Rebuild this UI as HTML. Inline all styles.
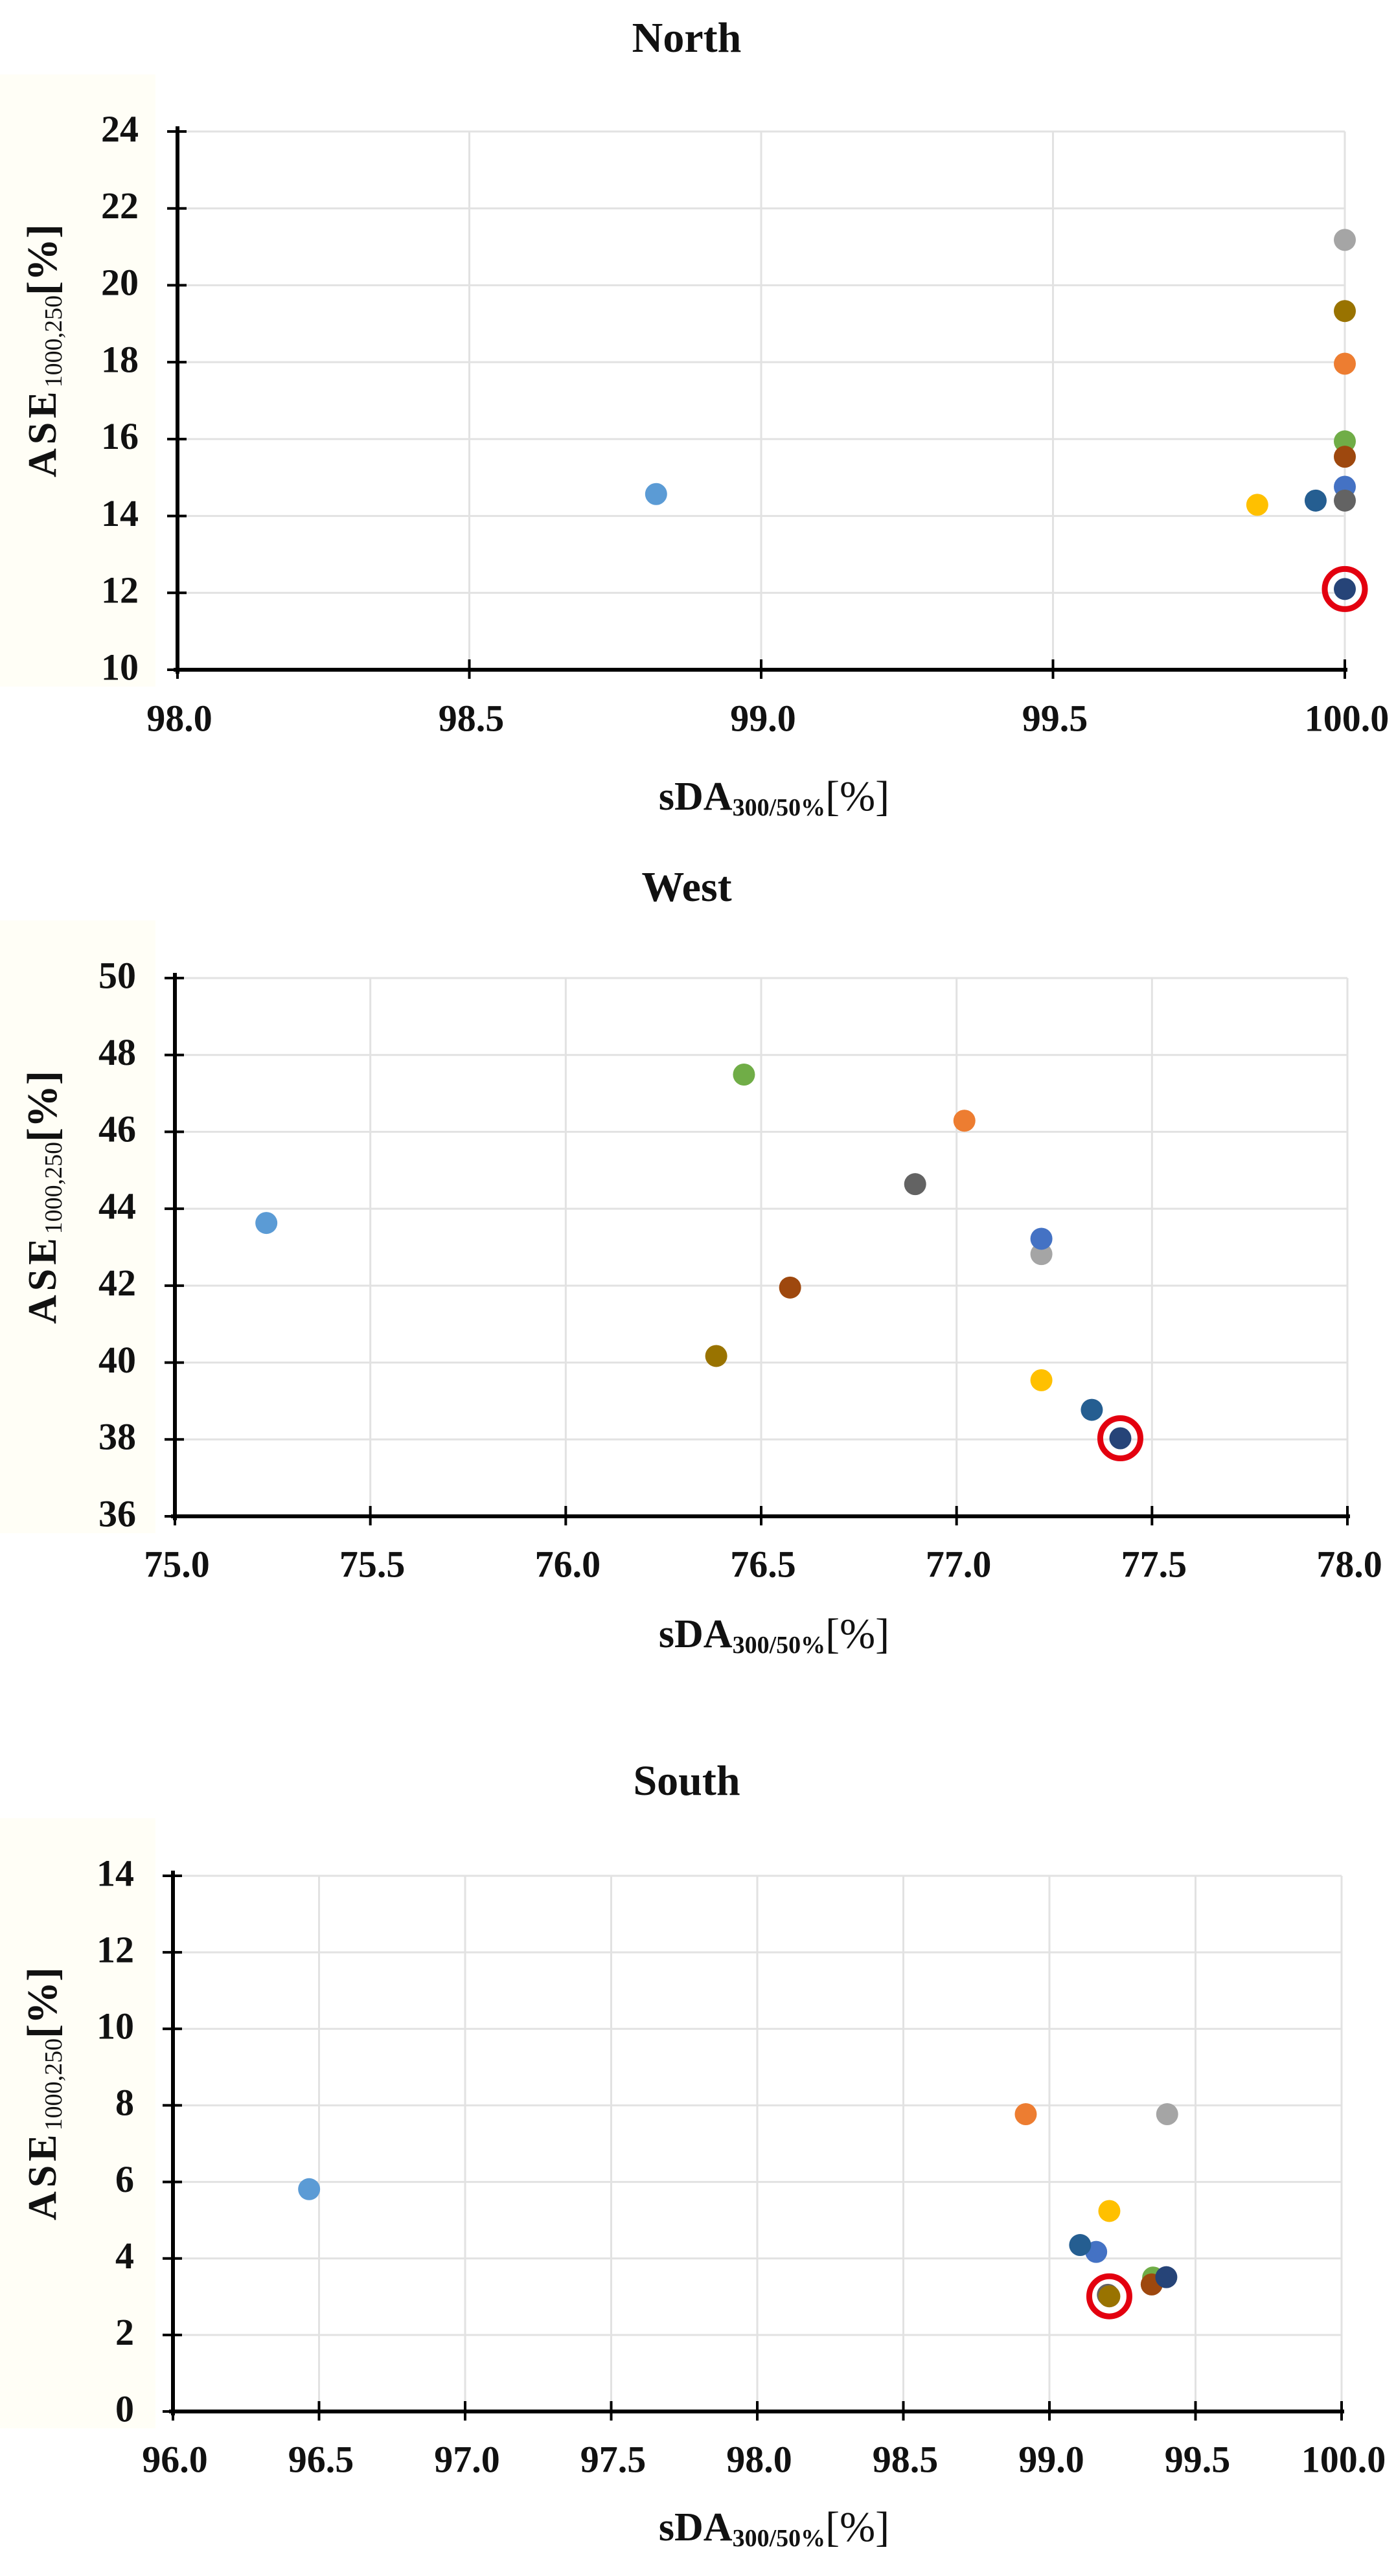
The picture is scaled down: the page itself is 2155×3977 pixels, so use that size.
<!DOCTYPE html>
<html><head><meta charset="utf-8"><style>
html,body{margin:0;padding:0;background:#fff;}
svg{display:block;font-family:"Liberation Serif",serif;}
</style></head><body>
<svg id="fig" width="2155" height="3977" viewBox="0 0 2155 3977" xmlns="http://www.w3.org/2000/svg"></svg>
<script>
// Series colors (order: 0..10)
const seriesNames = ['case-1','case-2','case-3','case-4','case-5','case-6','case-7','case-8','case-9','case-10','case-11'];
const seriesColors = ['#5b9bd5','#ed7d31','#a5a5a5','#ffc000','#4472c4','#70ad47','#255e91','#636363','#9e480e','#997300','#264478'];

// North data
const northX = [98.82, 100.0, 100.0, 99.85, 100.0, 100.0, 99.95, 100.0, 100.0, 100.0, 100.0];
const northY = [14.57, 17.96, 21.18, 14.29, 14.76, 15.94, 14.40, 14.40, 15.54, 19.33, 12.10];
const northXTicks = ['98.0','98.5','99.0','99.5','100.0'];
const northYTicks = ['10','12','14','16','18','20','22','24'];

// West data
const westX = [75.234, 77.02, 77.217, 77.217, 77.217, 76.456, 77.346, 76.894, 76.574, 76.385, 77.419];
const westY = [43.63, 46.29, 42.82, 39.54, 43.22, 47.49, 38.77, 44.64, 41.95, 40.17, 38.03];
const westXTicks = ['75.0','75.5','76.0','76.5','77.0','77.5','78.0'];
const westYTicks = ['36','38','40','42','44','46','48','50'];

// South data
const southX = [96.466, 98.919, 99.403, 99.205, 99.16, 99.355, 99.105, 99.20, 99.35, 99.205, 99.40];
const southY = [5.81, 7.77, 7.77, 5.24, 4.17, 3.50, 4.35, 3.05, 3.32, 3.01, 3.51];
const southXTicks = ['96.0','96.5','97.0','97.5','98.0','98.5','99.0','99.5','100.0'];
const southYTicks = ['0','2','4','6','8','10','12','14'];

const NS='http://www.w3.org/2000/svg';
const svg=document.getElementById('fig');
function mk(tag, attrs, parent){
  const e=document.createElementNS(NS,tag);
  for(const k in attrs) e.setAttribute(k, attrs[k]);
  (parent||svg).appendChild(e);
  return e;
}

function chart(cfg){
  const g=mk('g',{});
  
  
  const xt=cfg.xTicks.map(Number), yt=cfg.yTicks.map(Number);
  const xmin=xt[0], xmax=xt[xt.length-1], ymin=yt[0], ymax=yt[yt.length-1];
  const sx=v=>cfg.left+(v-xmin)/(xmax-xmin)*(cfg.right-cfg.left);
  const sy=v=>cfg.bottom-(v-ymin)/(ymax-ymin)*(cfg.bottom-cfg.top);

  const bg=mk('rect',{x:0,y:cfg.bgTop,width:240,height:cfg.bgBottom-cfg.bgTop,fill:'#fffef6'},g);
  
  

  const title=mk('text',{x:1060,y:cfg.titleY,'text-anchor':'middle','dominant-baseline':'middle','font-size':66,'font-weight':'bold',fill:'#111'},g);
  title.textContent=cfg.title;
  
  

  // gridlines
  xt.forEach((v,i)=>{
    if(i===0) return;
    const l=mk('line',{x1:sx(v),x2:sx(v),y1:cfg.top,y2:cfg.bottom,stroke:'#e2e2e2','stroke-width':3},g);
    
    
  });
  yt.forEach((v,i)=>{
    if(i===0) return;
    const l=mk('line',{x1:cfg.left,x2:cfg.right,y1:sy(v),y2:sy(v),stroke:'#e2e2e2','stroke-width':3},g);
    
    
  });
  // axes
  const ya=mk('line',{x1:cfg.left,x2:cfg.left,y1:cfg.top-8,y2:cfg.bottom+6,stroke:'#000','stroke-width':6},g);
  
  
  const xa=mk('line',{x1:cfg.left-6,x2:cfg.right+4,y1:cfg.bottom,y2:cfg.bottom,stroke:'#000','stroke-width':6},g);
  
  

  cfg.yTicks.forEach((lab,i)=>{
    const y=sy(yt[i]);
    mk('line',{x1:cfg.left-16,x2:cfg.left+14,y1:y,y2:y,stroke:'#000','stroke-width':4},g);
    const t=mk('text',{x:cfg.left-60,y:y+2,'text-anchor':'end','dominant-baseline':'middle','font-size':58,'font-weight':'bold',fill:'#111'},g);
    t.textContent=lab;
    
    
  });
  cfg.xTicks.forEach((lab,i)=>{
    const x=sx(xt[i]);
    mk('line',{x1:x,x2:x,y1:cfg.bottom-16,y2:cfg.bottom+14,stroke:'#000','stroke-width':4},g);
    const t=mk('text',{x:x+3,y:cfg.tickY,'text-anchor':'middle','dominant-baseline':'middle','font-size':58,'font-weight':'bold',fill:'#111'},g);
    t.textContent=lab;
    
    
  });

  // x-axis title
  const xtl=mk('text',{x:1195,y:cfg.xTitleY,'text-anchor':'middle','dominant-baseline':'middle','font-size':62,'font-weight':'bold',fill:'#111'},g);
  
  
  const a1=mk('tspan',{},xtl); a1.textContent='sDA';
  const a2=mk('tspan',{'font-size':38,dy:14}); xtl.appendChild(a2); a2.textContent='300/50%';
  const a3=mk('tspan',{dy:-14,'font-weight':'normal','font-size':66}); xtl.appendChild(a3); a3.textContent='[%]';

  // y-axis title
  const cy=(cfg.top+cfg.bottom)/2-77;
  const ytl=mk('text',{x:0,y:0,'text-anchor':'middle','dominant-baseline':'middle','font-size':62,'font-weight':'bold',fill:'#111',transform:'translate(72,'+cy+') rotate(-90)'},g);
  
  
  const b1=mk('tspan',{'letter-spacing':6},ytl); b1.textContent='ASE';
  const b2=mk('tspan',{'font-size':38,dy:14,'font-weight':'normal'}); ytl.appendChild(b2); b2.textContent='1000,250';
  const b3=mk('tspan',{dy:-14,'font-size':66}); ytl.appendChild(b3); b3.textContent='[%]';

  // points
  cfg.xs.forEach((v,i)=>{
    const c=mk('circle',{cx:sx(v),cy:sy(cfg.ys[i]),r:17,fill:seriesColors[i]},g);
    
    
  });
  const h=cfg.highlight;
  const ring=mk('circle',{cx:sx(cfg.xs[h]),cy:sy(cfg.ys[h]),r:31,fill:'none',stroke:'#e3000f','stroke-width':9},g);
  
  
}

chart({id:'north',title:'North',xs:northX,ys:northY,xTicks:northXTicks,yTicks:northYTicks,
  left:274,right:2076,top:203,bottom:1034,titleY:65,tickY:1115,xTitleY:1236,bgTop:115,bgBottom:1060,highlight:10});
chart({id:'west',title:'West',xs:westX,ys:westY,xTicks:westXTicks,yTicks:westYTicks,
  left:270,right:2080,top:1510,bottom:2341,titleY:1376,tickY:2421,xTitleY:2529,bgTop:1421,bgBottom:2367,highlight:10});
chart({id:'south',title:'South',xs:southX,ys:southY,xTicks:southXTicks,yTicks:southYTicks,
  left:267,right:2071,top:2896,bottom:3723,titleY:2756,tickY:3803,xTitleY:3908,bgTop:2807,bgBottom:3749,highlight:9});
</script>
</body></html>
